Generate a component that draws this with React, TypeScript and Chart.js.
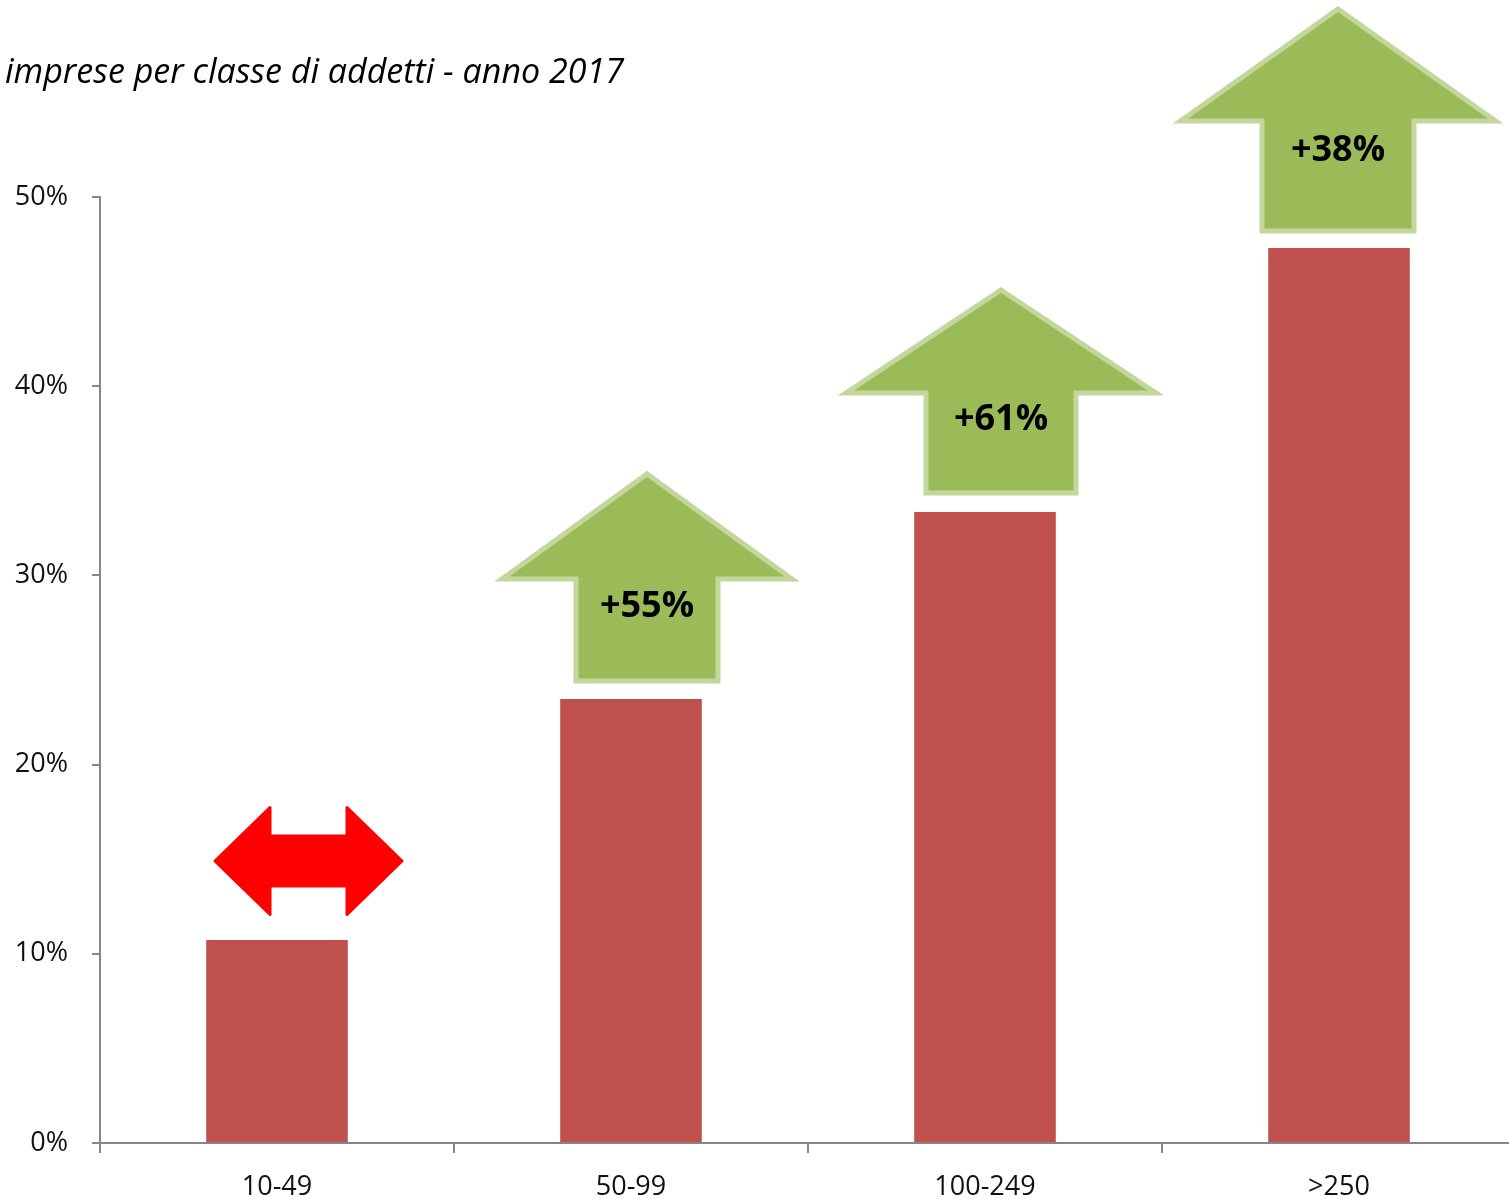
import React, { useEffect, useRef } from "react";
import { Chart, registerables } from "chart.js";

Chart.register(...registerables);

const categories = ["10-49", "50-99", "100-249", ">250"];
const shares = [10.73, 23.47, 33.35, 47.3];
const yTicks = [0, 10, 20, 30, 40, 50];
const growthLabels = ["", "+55%", "+61%", "+38%"];
const titleText = "imprese per classe di addetti - anno 2017";

// arrow shapes (pixel sizes), one per bar
const greenArrowShapes = [
  null,
  { dx: 16, gap: 18, headW: 290, headH: 105, shaftW: 142, shaftH: 102 },
  { dx: 16, gap: 19, headW: 310, headH: 103, shaftW: 150, shaftH: 100 },
  { dx: -1, gap: 17, headW: 315, headH: 112, shaftW: 152, shaftH: 110 },
];

const FONT = "'Open Sans', 'DejaVu Sans', sans-serif";

const overlayPlugin = {
  id: "overlay",
  afterDatasetsDraw(chart: any) {
    const ctx = chart.ctx as CanvasRenderingContext2D;
    const meta = chart.getDatasetMeta(0);
    ctx.save();

    // title
    ctx.fillStyle = "#000";
    ctx.font = `italic 34px ${FONT}`;
    ctx.textAlign = "left";
    ctx.textBaseline = "middle";
    ctx.fillText(titleText, 5, 73);

    // red double arrow over the first bar
    const b0 = meta.data[0];
    {
      const cx = b0.x + 31.5;
      const cy = b0.y - 79;
      const hw = 93.5, hl = 55, hh = 53.5, sh = 25;
      ctx.beginPath();
      ctx.moveTo(cx - hw, cy);
      ctx.lineTo(cx - hw + hl, cy - hh);
      ctx.lineTo(cx - hw + hl, cy - sh);
      ctx.lineTo(cx + hw - hl, cy - sh);
      ctx.lineTo(cx + hw - hl, cy - hh);
      ctx.lineTo(cx + hw, cy);
      ctx.lineTo(cx + hw - hl, cy + hh);
      ctx.lineTo(cx + hw - hl, cy + sh);
      ctx.lineTo(cx - hw + hl, cy + sh);
      ctx.lineTo(cx - hw + hl, cy + hh);
      ctx.closePath();
      ctx.fillStyle = "#ff0000";
      ctx.strokeStyle = "#ff0000";
      ctx.lineJoin = "round";
      ctx.lineWidth = 3;
      ctx.fill();
      ctx.stroke();
    }

    // green up arrows
    for (let i = 0; i < meta.data.length; i++) {
      const s = greenArrowShapes[i];
      if (!s) continue;
      const bar = meta.data[i];
      const cx = bar.x + s.dx;
      const bottom = bar.y - s.gap;
      const base = bottom - s.shaftH;
      const tip = base - s.headH;
      ctx.beginPath();
      ctx.moveTo(cx, tip);
      ctx.lineTo(cx + s.headW / 2, base);
      ctx.lineTo(cx + s.shaftW / 2, base);
      ctx.lineTo(cx + s.shaftW / 2, bottom);
      ctx.lineTo(cx - s.shaftW / 2, bottom);
      ctx.lineTo(cx - s.shaftW / 2, base);
      ctx.lineTo(cx - s.headW / 2, base);
      ctx.closePath();
      ctx.fillStyle = "#9bbb59";
      ctx.strokeStyle = "#c3d69b";
      ctx.lineJoin = "miter";
      ctx.lineWidth = 5;
      ctx.fill();
      ctx.stroke();

      ctx.fillStyle = "#000";
      ctx.font = `bold 36px ${FONT}`;
      ctx.textAlign = "center";
      ctx.textBaseline = "middle";
      ctx.fillText(growthLabels[i], cx, base + s.shaftH * 0.27);
    }
    ctx.restore();
  },
};

export default function App() {
  const ref = useRef<HTMLCanvasElement | null>(null);
  useEffect(() => {
    if (!ref.current) return;
    const axisColor = "#868686";
    const chart = new Chart(ref.current, {
      type: "bar",
      data: {
        labels: categories,
        datasets: [
          {
            data: shares,
            backgroundColor: "#c0504d",
            barPercentage: 0.8,
            categoryPercentage: 0.5,
          },
        ],
      },
      options: {
        responsive: false,
        animation: false,
        devicePixelRatio: 1,
        layout: { padding: { top: 197, left: 0, right: 0, bottom: 0 } },
        plugins: {
          legend: { display: false },
          tooltip: { enabled: false },
          title: { display: false },
        },
        scales: {
          x: {
            offset: true,
            grid: {
              offset: true,
              drawOnChartArea: false,
              drawTicks: true,
              tickLength: 10,
              color: axisColor,
              lineWidth: 2,
            },
            border: { display: true, color: axisColor, width: 2 },
            ticks: {
              color: "#111",
              font: { family: FONT, size: 27 },
              padding: 18,
              maxRotation: 0,
            },
            afterFit: (scale: any) => {
              scale.height = 56;
            },
          },
          y: {
            min: 0,
            max: 50,
            afterBuildTicks: (scale: any) => {
              scale.ticks = yTicks.map((v) => ({ value: v }));
            },
            grid: {
              drawOnChartArea: false,
              drawTicks: true,
              tickLength: 8,
              color: axisColor,
              lineWidth: 2,
            },
            border: { display: true, color: axisColor, width: 2 },
            ticks: {
              color: "#111",
              font: { family: FONT, size: 27 },
              padding: 24,
              callback: (v: any) => `${v}%`,
            },
            afterFit: (scale: any) => {
              scale.width = 100;
            },
          },
        },
      },
      plugins: [overlayPlugin],
    });
    return () => chart.destroy();
  }, []);

  return (
    <div
      style={{
        position: "absolute",
        left: 0,
        top: 0,
        width: 1509,
        height: 1199,
        overflow: "hidden",
        background: "#fff",
      }}
    >
      <canvas ref={ref} width={1516} height={1199} style={{ display: "block" }} />
    </div>
  );
}
